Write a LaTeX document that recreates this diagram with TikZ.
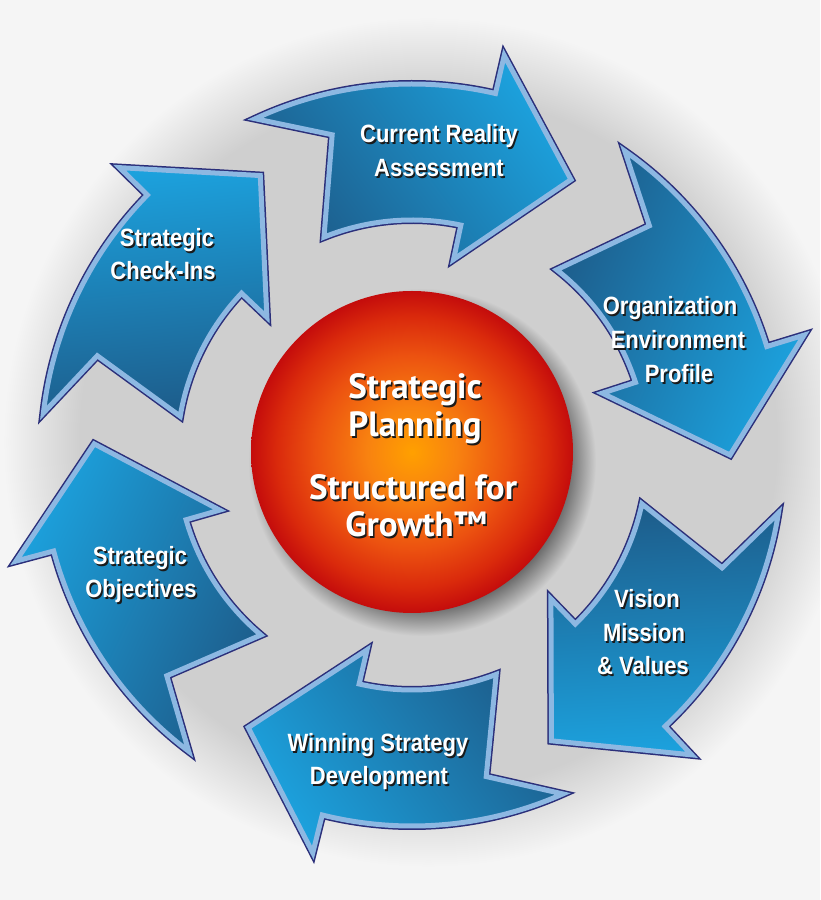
\documentclass[tikz,border=0pt]{standalone}
\usepackage{fontspec}
\newfontfamily\arrfont{Liberation Sans}[FakeStretch=0.88]
\newfontfamily\ballfont{PT Sans}
\definecolor{bg}{HTML}{F5F5F5}
\definecolor{ringgray}{HTML}{CFCFCF}
\definecolor{navy}{HTML}{2B2F7A}
\definecolor{lightband}{HTML}{8DB8E2}
\definecolor{arrdark}{HTML}{1D5C8A}
\definecolor{arrbright}{HTML}{1CA2DE}
\definecolor{ballA}{HTML}{FFA000}
\definecolor{ballB}{HTML}{F88210}
\definecolor{ballC}{HTML}{EC5210}
\definecolor{ballD}{HTML}{DA2A0C}
\definecolor{ballE}{HTML}{C40C0C}
\definecolor{shadowc}{HTML}{6A6A6A}
\definecolor{txtshadow}{HTML}{1A1A1A}
\pgfdeclareradialshading{ringshade}{\pgfpointorigin}{color(0bp)=(ringgray); color(20.5bp)=(ringgray); color(25bp)=(bg); color(50bp)=(bg)}
\pgfdeclareradialshading{ballshade}{\pgfpointorigin}{color(0bp)=(ballA); color(7bp)=(ballB); color(15bp)=(ballC); color(21bp)=(ballD); color(25bp)=(ballE); color(50bp)=(ballE)}
\pgfdeclareradialshading{ballshadow}{\pgfpointorigin}{color(0bp)=(shadowc); color(21bp)=(shadowc); color(25bp)=(ringgray); color(50bp)=(ringgray)}
\tikzset{
  arrowshape/.style={insert path={(#1+38:371) arc[start angle=#1+38, end angle=#1, radius=371]
     -- (#1:410) -- (#1-17:318) -- (#1+1:200) -- (#1+1:235)
     arc[start angle=#1+1, end angle=#1+35, radius=235] -- (#1+27:330) -- cycle}},
  lbltext/.style={font={\arrfont\bfseries\fontsize{25}{30}\selectfont}, text=white, anchor=base, inner sep=0pt},
  balltext/.style={font={\ballfont\bfseries\fontsize{35}{40}\selectfont}, text=white, anchor=base, inner sep=0pt}
}
\newcommand\bluearrow[2]{%
  \path[draw=navy, line width=8pt, arrowshape=#1];
  \path[top color=arrbright, bottom color=arrdark, shading angle=#2, arrowshape=#1];
  \path[draw=lightband, line width=5pt, arrowshape=#1];}
\newcommand\shadowed[2]{\leavevmode\rlap{\hspace{#1}\raisebox{-#1}{\textcolor{txtshadow}{#2}}}#2}
\newcommand\lbl[4]{%
  \node[lbltext] (#1) at (#2,900-#3) {\shadowed{1.6pt}{#4}};}
\newcommand\blbl[4]{%
  \node[balltext] (#1) at (#2,900-#3) {\shadowed{1.6pt}{#4}};}
\begin{document}
\begin{tikzpicture}[x=1pt,y=1pt,line join=miter]
\useasboundingbox (0,0) rectangle (820,900);
\clip (0,0) rectangle (820,900);
\fill[bg] (0,0) rectangle (820,900);
\shade[shading=ringshade] (428,458) circle (425);
\begin{scope}[shift={(412,445)}]
  \bluearrow{77}{-53}
  \bluearrow{17}{-113}
  \bluearrow{-47}{-177}
  \bluearrow{-104}{-234}
  \bluearrow{-165}{-295}
  \bluearrow{135.5}{5.5}
\end{scope}
\shade[shading=ballshadow] (422,438) circle (174);
\shade[shading=ballshade] (412,448) circle (161);
% arrow labels
\lbl{cr1}{439}{143}{Current Reality}
\lbl{cr2}{439}{177}{Assessment}
\lbl{or1}{670}{315}{Organization}
\lbl{or2}{678}{349}{Environment}
\lbl{or3}{679}{383}{Profile}
\lbl{vi1}{647}{608}{Vision}
\lbl{vi2}{644}{642}{Mission}
\lbl{vi3}{643}{675}{\& Values}
\lbl{wi1}{378}{752}{Winning Strategy}
\lbl{wi2}{379}{785}{Development}
\lbl{ob1}{140}{565}{Strategic}
\lbl{ob2}{141}{598}{Objectives}
\lbl{ci1}{167}{247}{Strategic}
\lbl{ci2}{163}{280}{Check-Ins}
% ball labels
\blbl{b1}{415}{399}{Strategic}
\blbl{b2}{415}{437}{Planning}
\blbl{b3}{413}{500}{Structured for}
\blbl{b4}{416}{537}{Growth™}
\end{tikzpicture}
\end{document}
